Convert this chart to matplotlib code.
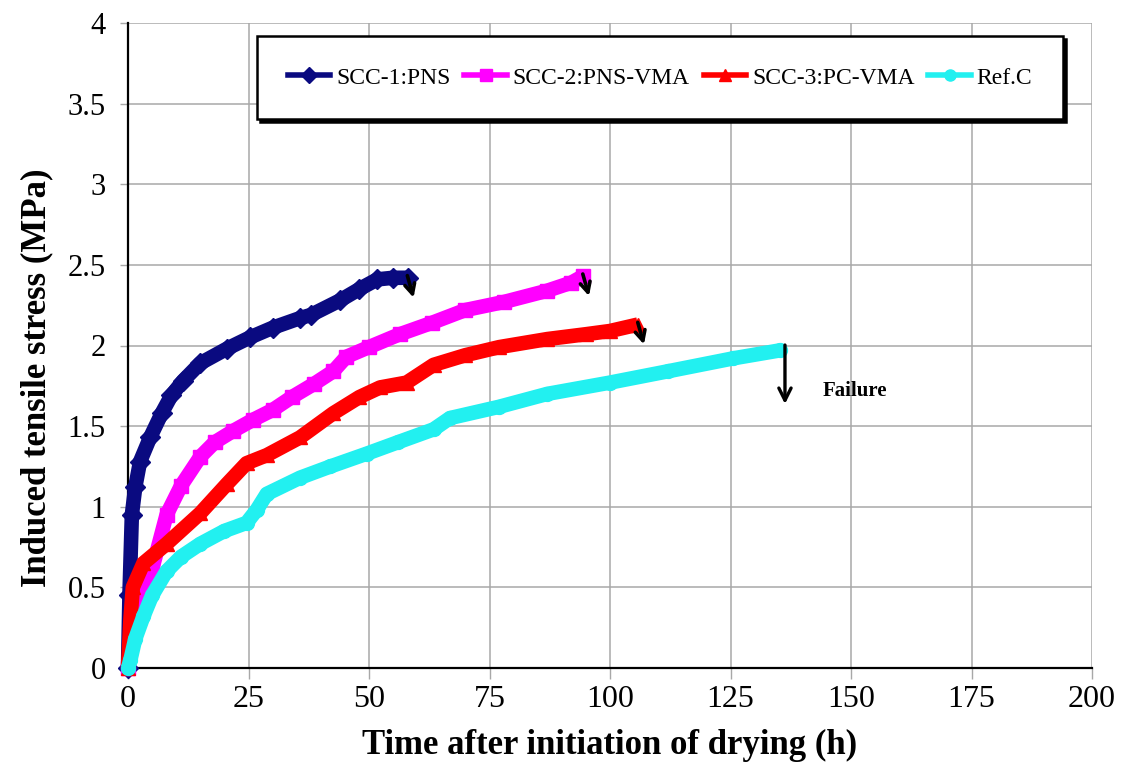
import matplotlib
matplotlib.use("Agg")
import matplotlib.pyplot as plt
from matplotlib.lines import Line2D

# ---- data ----
t_scc1 = [0, 0.3, 0.8, 1.5, 2.5, 4.6, 7, 9, 11.4, 15, 20.5, 25.3, 30, 35.7, 38, 44, 48, 51.7, 55, 58]
s_scc1 = [0, 0.45, 0.95, 1.12, 1.28, 1.43, 1.58, 1.69, 1.78, 1.89, 1.98, 2.05, 2.11, 2.17, 2.19, 2.28, 2.35, 2.41, 2.42, 2.42]

t_scc2 = [0, 1, 3, 4.9, 8, 11, 15, 18, 21.8, 26, 30, 34, 38.5, 42.6, 45.3, 50, 56.4, 63, 70, 78, 87, 92, 94.4]
s_scc2 = [0, 0.2, 0.42, 0.6, 0.95, 1.13, 1.31, 1.40, 1.47, 1.54, 1.60, 1.68, 1.76, 1.84, 1.93, 1.99, 2.07, 2.14, 2.22, 2.27, 2.34, 2.39, 2.43]

t_scc3 = [0, 0.5, 1, 3.2, 8, 15, 20.5, 24.6, 28.8, 35.7, 42.6, 48, 52.3, 57.8, 63.4, 70, 77, 87, 95, 100, 105.8]
s_scc3 = [0, 0.3, 0.5, 0.65, 0.77, 0.96, 1.14, 1.27, 1.32, 1.43, 1.58, 1.68, 1.74, 1.77, 1.88, 1.94, 1.99, 2.04, 2.07, 2.09, 2.13]

t_ref = [0, 0.5, 1.5, 3.2, 5, 8, 11, 15, 20, 24.6, 26.7, 28.8, 35.7, 42, 49.6, 56, 63.4, 66.8, 77, 87, 100, 112, 125.5, 135.3]
s_ref = [0, 0.05, 0.18, 0.32, 0.45, 0.60, 0.69, 0.77, 0.85, 0.90, 0.98, 1.08, 1.18, 1.25, 1.33, 1.40, 1.48, 1.55, 1.62, 1.70, 1.77, 1.84, 1.92, 1.97]

labels = ["SCC-1:PNS", "SCC-2:PNS-VMA", "SCC-3:PC-VMA", "Ref.C"]
x_ticks = [0, 25, 50, 75, 100, 125, 150, 175, 200]
y_ticks = [0, 0.5, 1, 1.5, 2, 2.5, 3, 3.5, 4]
y_ticklabels = ["0", "0.5", "1", "1.5", "2", "2.5", "3", "3.5", "4"]

colors = ["#0a0a80", "#ff00ff", "#ff0000", "#22f0f0"]
markers = ["D", "s", "^", "o"]

plt.rcParams['font.family'] = ['Liberation Serif', 'DejaVu Serif']

fig = plt.figure(figsize=(11.24, 7.68), dpi=100)
ax = fig.add_axes([128/1124, 1-668/768, (1092-128)/1124, (668-23)/768])

series = [(t_scc1, s_scc1), (t_scc2, s_scc2), (t_scc3, s_scc3), (t_ref, s_ref)]
for (t, s), c, m, lab in zip(series, colors, markers, labels):
    ax.plot(t, s, color=c, lw=10.5, marker=m, ms=10, mec=c, mfc=c,
            solid_capstyle='butt', solid_joinstyle='round', clip_on=False, zorder=3)

# small failure arrows at the end of the three SCC curves
for (t, s) in series[:3]:
    ax.annotate("", xy=(t[-1] + 1.4, s[-1] - 0.14), xytext=(t[-1] - 0.2, s[-1] + 0.03),
                arrowprops=dict(arrowstyle='->', color='black', lw=2.6, mutation_scale=18),
                zorder=5)

# Failure arrow for Ref.C
ax.annotate("", xy=(t_ref[-1] + 1.0, 1.62), xytext=(t_ref[-1] + 1.0, s_ref[-1] + 0.05),
            arrowprops=dict(arrowstyle='->', color='black', lw=2.4, mutation_scale=22),
            zorder=5)
ax.text(150.8, 1.72, "Failure", fontsize=15, fontweight='bold', ha='center', va='center')

ax.set_xlim(0, 200)
ax.set_ylim(0, 4)
ax.set_xticks(x_ticks)
ax.set_yticks(y_ticks)
ax.set_yticklabels(y_ticklabels)
ax.grid(True, color='#a8a8a8', lw=1.1)
ax.set_axisbelow(True)
for side in ['top', 'right']:
    ax.spines[side].set_visible(False)
for side in ['left', 'bottom']:
    ax.spines[side].set_linewidth(1.6)
    ax.spines[side].set_color('black')
ax.tick_params(axis='x', direction='out', length=8, width=1, color='#a8a8a8',
               labelsize=23, pad=4)
ax.tick_params(axis='y', direction='out', length=6, width=1, color='#a8a8a8',
               labelsize=22, pad=10)

ax.set_xlabel("Time after initiation of drying (h)", fontsize=25, fontweight='bold', labelpad=11)
ax.set_ylabel("Induced tensile stress (MPa)", fontsize=25, fontweight='bold')
ax.yaxis.set_label_coords(-0.077, 0.45)

handles = [Line2D([0], [0], color=c, lw=4, marker=m, ms=8, mec=c, mfc=c)
           for c, m in zip(colors, markers)]
leg = ax.legend(handles, labels, ncol=4, loc='center',
                bbox_to_anchor=(0.134, 0.852, 0.836, 0.126), mode='expand',
                borderaxespad=0.0,
                fontsize=17, frameon=True, fancybox=False, borderpad=1.3,
                handlelength=1.8, handletextpad=0.25, columnspacing=0.8,
                shadow={'color': 'black', 'alpha': 1.0})
leg.get_frame().set_edgecolor('black')
leg.get_frame().set_linewidth(1.8)
leg.set_zorder(6)

fig.savefig("out.png", dpi=100)
